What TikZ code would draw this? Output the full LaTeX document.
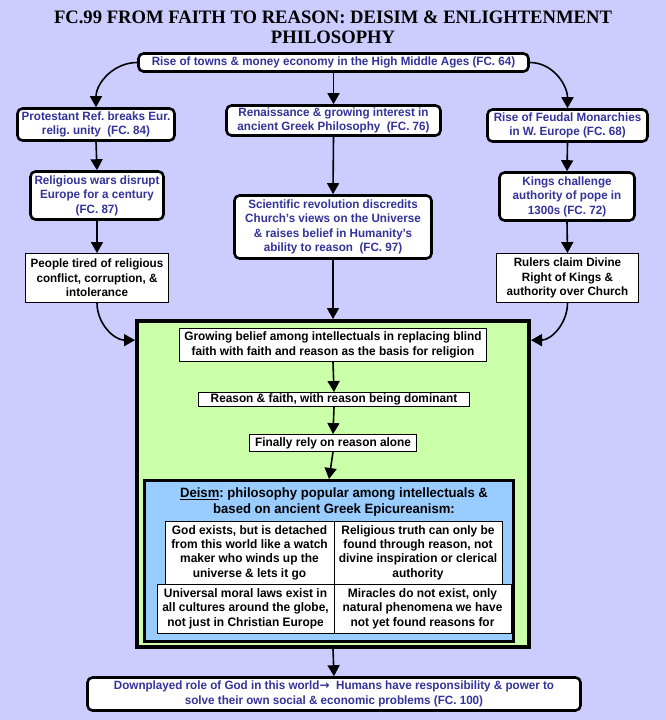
\documentclass[tikz,border=0pt]{standalone}
\usepackage{fontspec}
\setmainfont{Liberation Sans}[FakeStretch=0.97]
\newfontfamily\titlefont{Liberation Serif}[FakeStretch=0.98]
\newfontfamily\arrowfont{DejaVu Sans}
\usetikzlibrary{arrows.meta}
\frenchspacing
\definecolor{pagebg}{RGB}{204,204,255}
\definecolor{fctext}{RGB}{51,51,153}
\definecolor{reasongreen}{RGB}{204,255,170}
\definecolor{deismblue}{RGB}{153,204,255}
\tikzset{
  fcbox/.style={draw, line width=2.6pt, rounded corners=5pt, fill=white, text=fctext,
    align=center, inner sep=0pt, font=\bfseries\fontsize{12}{14.5}\selectfont},
  plainbox/.style={draw, line width=0.9pt, fill=white, align=center, inner sep=0pt,
    font=\bfseries\fontsize{12}{14.5}\selectfont},
  cellbox/.style={plainbox, font=\bfseries\fontsize{12.3}{14.4}\selectfont},
  arr/.style={line width=1.6pt, -{Triangle[length=11pt,width=12pt]}},
}
\newcommand{\fcnode}[7][]{\node[fcbox, minimum width=#5pt, minimum height=#6pt, #1] (#2) at (#3,#4) {#7};}
\newcommand{\plainnode}[7][]{\node[plainbox, minimum width=#5pt, minimum height=#6pt, #1] (#2) at (#3,#4) {#7};}
\newcommand{\deismcell}[6]{\node[cellbox, minimum width=#4pt, minimum height=#5pt] (#1) at (#2,#3) {#6};}
\begin{document}
\begin{tikzpicture}[x=1pt,y=-1pt]
        \fill[pagebg] (0,0) rectangle (666,720);
        \node[align=center, font=\titlefont\bfseries\fontsize{19}{20}\selectfont] (title) at (333,27)
          {FC.99 FROM FAITH TO REASON: DEISIM \& ENLIGHTENMENT\\PHILOSOPHY};

        % top row
        \fcnode{rise}{333.5}{62.5}{390}{18}{Rise of towns \& money economy in the High Middle Ages (FC. 64)}
        \fcnode{prot}{96}{124.5}{157}{32}{Protestant Ref. breaks Eur.\\relig. unity\ \ (FC. 84)}
        \fcnode{ren}{333.5}{120.5}{214}{30}{Renaissance \& growing interest in\\ancient Greek Philosophy\ \ (FC. 76)}
        \fcnode{feud}{567.5}{125.5}{160}{32}{Rise of Feudal Monarchies\\in W. Europe (FC. 68)}

        % second row
        \fcnode{relw}{97}{195.5}{133}{48}{Religious wars disrupt\\Europe for a century\\(FC. 87)}
        \fcnode{sci}{333}{227}{197}{63}{Scientific revolution discredits\\Church's views on the Universe\\\& raises belief in Humanity's\\ability to reason\ \ (FC. 97)}
        \fcnode{kings}{567}{196.5}{135}{48}{Kings challenge\\authority of pope in\\1300s (FC. 72)}

        \plainnode{tired}{97}{278}{143}{49}{People tired of religious\\conflict, corruption, \&\\intolerance}
        \plainnode{rulers}{567.5}{278}{142}{49}{Rulers claim Divine\\Right of Kings \&\\authority over Church}

        % reason box
        \node[draw, line width=4pt, fill=reasongreen, minimum width=392pt, minimum height=326pt] (reason) at (333,484) {};
        \plainnode[font=\bfseries\fontsize{12.2}{15}\selectfont]{grow}{333}{345}{307}{33}{Growing belief among intellectuals in replacing blind\\faith with faith and reason as the basis for religion}
        \plainnode[font=\bfseries\fontsize{12.2}{15}\selectfont]{rsf}{334}{399.5}{271}{14}{Reason \& faith, with reason being dominant}
        \plainnode[font=\bfseries\fontsize{12.2}{15}\selectfont]{final}{333}{443}{167}{17}{Finally rely on reason alone}

        % deism box
        \node[draw, line width=3pt, fill=deismblue, minimum width=369pt, minimum height=161pt] (deism) at (329,561) {};
        \node[align=center, font=\bfseries\fontsize{13.5}{16}\selectfont] (deismhead) at (334,502)
          {\underline{Deism}: philosophy popular among intellectuals \&\\based on ancient Greek Epicureanism:};
        \deismcell{godex}{249.5}{552.5}{169}{63}{God exists, but is detached\\from this world like a watch\\maker who winds up the\\universe \& lets it go}
        \deismcell{truth}{418}{552.5}{168}{63}{Religious truth can only be\\found through reason, not\\divine inspiration or clerical\\authority}
        \deismcell{moral}{245.5}{608.5}{177}{49}{Universal moral laws exist in\\all cultures around the globe,\\not just in Christian Europe}
        \deismcell{mirac}{422.5}{608.5}{177}{49}{Miracles do not exist, only\\natural phenomena we have\\not yet found reasons for}

        \fcnode{down}{334}{694}{493}{33}{Downplayed role of God in this world{\arrowfont\bfseries →}\ \ Humans have responsibility \& power to\\solve their own social \& economic problems (FC. 100)}

        % arrows
        \draw[arr] (rise.west) to[out=180,in=90] (prot.north);
        \draw[arr] (rise.south) -- (ren.north);
        \draw[arr] (rise.east) to[out=0,in=90] (feud.north);
        \draw[arr] (prot.south) -- (relw.north);
        \draw[arr] (relw.south) -- (tired.north);
        \draw[arr] (ren.south) -- (sci.north);
        \draw[arr] (feud.south) -- (kings.north);
        \draw[arr] (kings.south) -- (rulers.north);
        \draw[arr] (sci.south) -- (reason.north);
        \draw[arr] (tired.south) to[out=-90,in=180] (reason.144);
        \draw[arr] (rulers.south) to[out=-90,in=0] (reason.36);
        \draw[arr] (grow.south) -- (rsf.north);
        \draw[arr] (rsf.south) -- (final.north);
        \draw[arr] (final.south) -- (deism.north);
        \draw[arr] (reason.south) -- (down.north);
\end{tikzpicture}
\end{document}
